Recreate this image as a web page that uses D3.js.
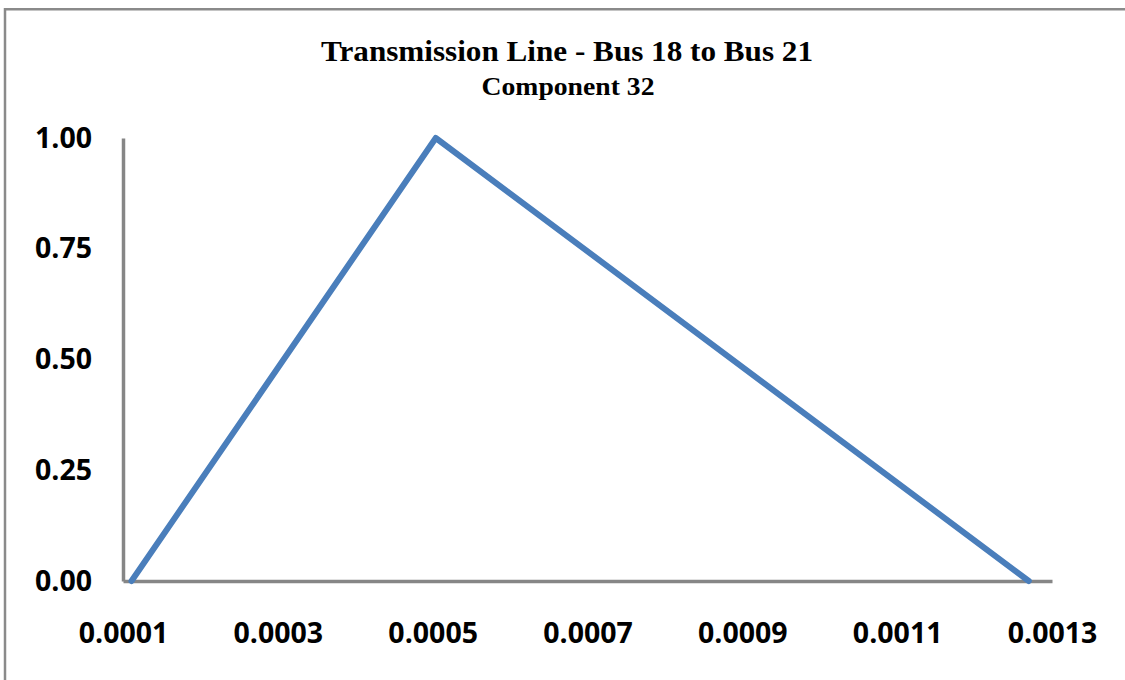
<!DOCTYPE html>
<html>
<head>
<meta charset="utf-8">
<script src="https://cdn.jsdelivr.net/npm/d3@7"></script>
<style>
  html, body { margin: 0; padding: 0; background: #fff; }
  svg { display: block; }
</style>
</head>
<body>
<div id="chart"></div>
<script>
// Series: time (s) vs. normalized value
const xValues = [0.000111, 0.000504, 0.00127];
const yValues = [0, 1, 0];
const xTicks = [0.0001, 0.0003, 0.0005, 0.0007, 0.0009, 0.0011, 0.0013];
const yTicks = [0, 0.25, 0.5, 0.75, 1];
const titleText = "Transmission Line - Bus 18 to Bus 21";
const subtitleText = "Component 32";

const W = 1125, H = 680;
const svg = d3.select("#chart").append("svg")
  .attr("width", W).attr("height", H);

// Outer frame (left and top edges)
svg.append("path")
  .attr("d", "M5,680 L5,9.3 L1125,9.3")
  .attr("fill", "none")
  .attr("stroke", "#8a8a8a")
  .attr("stroke-width", 2.5);

const x = d3.scaleLinear().domain([0.0001, 0.0013]).range([123, 1052]);
const y = d3.scaleLinear().domain([0, 1]).range([581, 138]);

// Titles
svg.append("text")
  .attr("x", 567).attr("y", 61)
  .attr("text-anchor", "middle")
  .attr("font-family", "'Liberation Serif', 'Times New Roman', serif")
  .attr("font-weight", "bold")
  .attr("font-size", 30)
  .attr("textLength", 492)
  .attr("lengthAdjust", "spacingAndGlyphs")
  .attr("fill", "#000")
  .text(titleText);

svg.append("text")
  .attr("x", 568).attr("y", 95)
  .attr("text-anchor", "middle")
  .attr("font-family", "'Liberation Serif', 'Times New Roman', serif")
  .attr("font-weight", "bold")
  .attr("font-size", 26)
  .attr("textLength", 173)
  .attr("lengthAdjust", "spacingAndGlyphs")
  .attr("fill", "#000")
  .text(subtitleText);

const axisFont = "'Open Sans', 'DejaVu Sans', sans-serif";

// Y axis
const yAxis = svg.append("g")
  .attr("transform", `translate(${x.range()[0]},0)`)
  .call(d3.axisLeft(y).tickValues(yTicks).tickSize(0).tickPadding(31)
    .tickFormat(d3.format(".2f")));
yAxis.select(".domain").attr("stroke", "#868686").attr("stroke-width", 3.5);
yAxis.selectAll("text")
  .attr("font-family", axisFont).attr("font-weight", "bold")
  .attr("font-size", 28.5).attr("fill", "#000");

// X axis
const xAxis = svg.append("g")
  .attr("transform", `translate(0,${y(0)})`)
  .call(d3.axisBottom(x).tickValues(xTicks).tickSize(0).tickPadding(42)
    .tickFormat(d3.format(".4f")));
xAxis.select(".domain").attr("stroke", "#868686").attr("stroke-width", 3.5);
xAxis.selectAll("text")
  .attr("font-family", axisFont).attr("font-weight", "bold")
  .attr("font-size", 28.5).attr("fill", "#000");

// Series line
const pts = xValues.map((v, i) => [v, yValues[i]]);
svg.append("path")
  .datum(pts)
  .attr("d", d3.line().x(d => x(d[0])).y(d => y(d[1])))
  .attr("fill", "none")
  .attr("stroke", "#4a7ebb")
  .attr("stroke-width", 6)
  .attr("stroke-linecap", "round")
  .attr("stroke-linejoin", "round");
</script>
</body>
</html>
